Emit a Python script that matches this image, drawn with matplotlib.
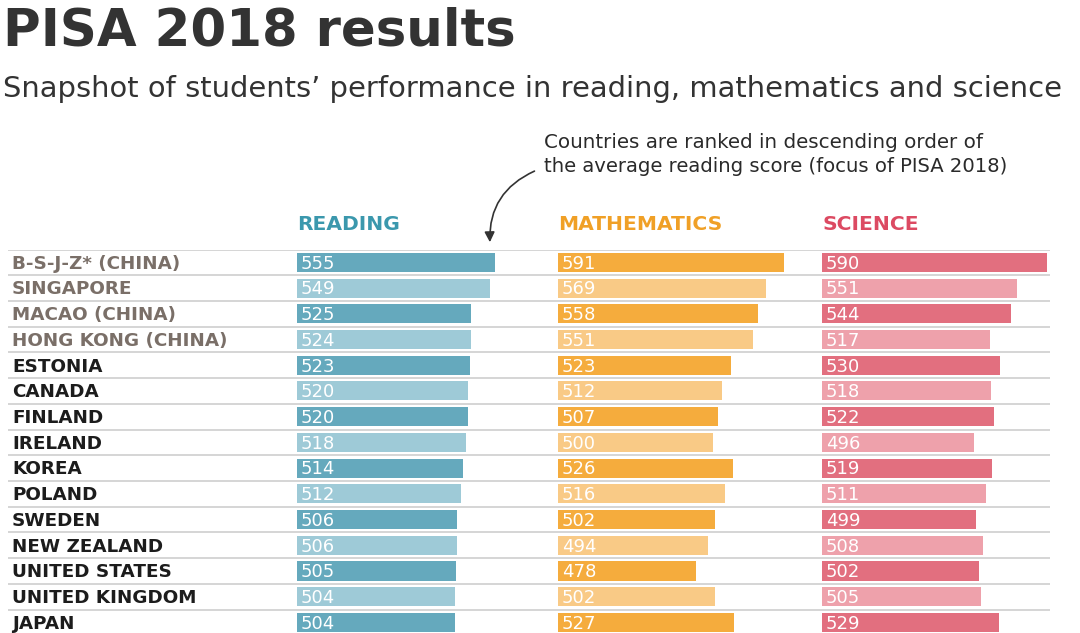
"""
PISA 2018 results - reading, mathematics and science snapshot.
"""

import matplotlib.pyplot as plt
from matplotlib.patches import FancyArrowPatch

countries = ["B-S-J-Z* (CHINA)", "SINGAPORE", "MACAO (CHINA)", "HONG KONG (CHINA)",
             "ESTONIA", "CANADA", "FINLAND", "IRELAND", "KOREA", "POLAND", "SWEDEN",
             "NEW ZEALAND", "UNITED STATES", "UNITED KINGDOM", "JAPAN"]
china_regions = ["B-S-J-Z* (CHINA)", "SINGAPORE", "MACAO (CHINA)", "HONG KONG (CHINA)"]
reading = [555, 549, 525, 524, 523, 520, 520, 518, 514, 512, 506, 506, 505, 504, 504]
mathematics = [591, 569, 558, 551, 523, 512, 507, 500, 526, 516, 502, 494, 478, 502, 527]
science = [590, 551, 544, 517, 530, 518, 522, 496, 519, 511, 499, 508, 502, 505, 529]
subjects = ["READING", "MATHEMATICS", "SCIENCE"]

W, H = 1080, 633
BASE = 300          # bars start at a score of 300
PX_PER_POINT = 0.775
ROW_TOP = 249.5
ROW_H = 25.72
COL_W = 250

columns = [
    (reading, 297, "#3b98ad", "#65a9bd", "#9ecad7"),
    (mathematics, 558, "#f0a026", "#f5ac3d", "#f9ca86"),
    (science, 822, "#dc4a62", "#e26f7f", "#eea1ab"),
]


def fx(px):
    return px / W


def fy(px):
    return 1 - px / H


fig = plt.figure(figsize=(W / 100, H / 100), dpi=100)
n = len(countries)
table_bottom = ROW_TOP + n * ROW_H

# background axes: separator lines and country names
bg = fig.add_axes([fx(8), fy(table_bottom), fx(1042), (table_bottom - ROW_TOP) / H])
bg.set_xlim(0, 1)
bg.set_ylim(n - 0.5, -0.5)
bg.axis("off")
for i in range(n):
    bg.axhline(i - 0.5, color="#d2d2d2", lw=1.3, zorder=0)
for i, name in enumerate(countries):
    col = "#7a6f68" if name in china_regions else "#1c1c1c"
    bg.text(4 / 1042, i + 0.05, name, color=col, fontsize=13.2, fontweight="bold",
            va="center", ha="left")

for (values, left, head_col, dark, light), subject in zip(columns, subjects):
    ax = fig.add_axes([fx(left), fy(table_bottom), fx(COL_W), (table_bottom - ROW_TOP) / H])
    ax.set_xlim(BASE, BASE + COL_W / PX_PER_POINT)
    ax.set_ylim(n - 0.5, -0.5)
    ax.axis("off")
    colors = [dark if i % 2 == 0 else light for i in range(n)]
    ax.barh(range(n), values, height=0.74, color=colors, zorder=2)
    for i, v in enumerate(values):
        ax.text(BASE + 5, i + 0.05, str(v), color="white", fontsize=13,
                va="center", ha="left", zorder=3)
    fig.text(fx(left), fy(225), subject, color=head_col, fontsize=14.6,
             fontweight="bold", va="center", ha="left")

fig.text(fx(3), fy(32), "PISA 2018 results", color="#333333", fontsize=37,
         fontweight="bold", va="center", ha="left")
fig.text(fx(3), fy(89),
         "Snapshot of students\u2019 performance in reading, mathematics and science",
         color="#333333", fontsize=20.9, va="center", ha="left")
fig.text(fx(544), fy(143), "Countries are ranked in descending order of",
         color="#2a2a2a", fontsize=14.3, va="center", ha="left")
fig.text(fx(544), fy(167), "the average reading score (focus of PISA 2018)",
         color="#2a2a2a", fontsize=14.1, va="center", ha="left")

arrow = FancyArrowPatch((fx(537), fy(170)), (fx(490), fy(245)),
                        transform=fig.transFigure, connectionstyle="arc3,rad=0.35",
                        arrowstyle="-|>,head_length=6,head_width=3",
                        color="#333333", lw=1.2)
fig.patches.append(arrow)

plt.savefig("out.png", dpi=100)
